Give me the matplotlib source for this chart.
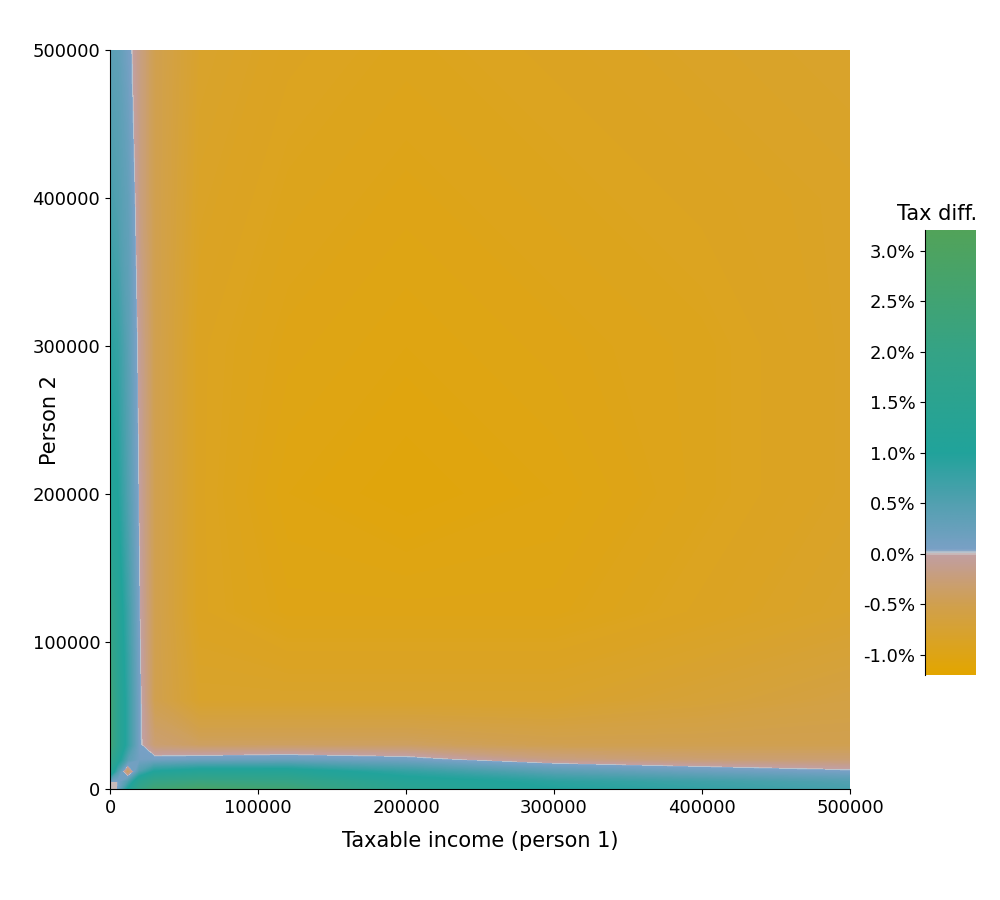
import numpy as np
import matplotlib
matplotlib.use('Agg')
import matplotlib.pyplot as plt
from matplotlib.colors import LinearSegmentedColormap, Normalize

# grid coordinates (income of person 1 / person 2)
incomes = [0, 5000, 12000, 20000, 30000, 60000, 120000, 200000, 300000, 400000, 500000]

# tax difference in percent, rows = person 2, cols = person 1
tax_diff = [
    [0.0, 0.0, 1.0, 2.0, 2.5, 2.8, 2.5, 1.5, 1.0, 0.8, 0.6],
    [0.0, 0.0, 0.5, 1.5, 2.0, 2.2, 2.0, 1.2, 0.9, 0.7, 0.5],
    [1.5, 0.5, -0.5, 0.5, 1.0, 1.2, 1.2, 0.8, 0.4, 0.2, 0.05],
    [2.0, 1.2, 0.4, 0.1, 0.1, 0.15, 0.2, 0.1, -0.2, -0.3, -0.3],
    [2.5, 1.5, 0.8, 0.05, -0.3, -0.4, -0.4, -0.4, -0.5, -0.5, -0.5],
    [2.5, 1.5, 0.8, 0.05, -0.5, -0.8, -0.8, -0.8, -0.8, -0.7, -0.6],
    [2.0, 1.3, 0.7, 0.0, -0.5, -0.9, -1.0, -1.0, -1.0, -0.9, -0.8],
    [1.2, 1.0, 0.5, -0.05, -0.5, -0.9, -1.05, -1.1, -1.05, -0.95, -0.85],
    [0.9, 0.8, 0.4, -0.1, -0.5, -0.9, -1.0, -1.05, -1.0, -0.95, -0.85],
    [0.6, 0.5, 0.3, -0.2, -0.5, -0.85, -0.95, -1.0, -0.95, -0.9, -0.85],
    [0.4, 0.35, 0.1, -0.2, -0.5, -0.8, -0.9, -0.95, -0.9, -0.85, -0.8],
]

vmin, vmax = -1.2, 3.2
def pos(v):
    return (v - vmin) / (vmax - vmin)

cmap = LinearSegmentedColormap.from_list('taxdiff', [
    (0.0, '#e3a600'),
    (pos(-0.5), '#d0a050'),
    (pos(-0.1), '#c49e94'),
    (pos(-0.02), '#c2a0a0'),
    (pos(0.0), '#d0d0d0'),
    (pos(0.03), '#7aa0c6'),
    (pos(0.5), '#52a0b0'),
    (pos(1.0), '#21a39b'),
    (pos(2.0), '#35a386'),
    (1.0, '#52a35a'),
])

fig = plt.figure(figsize=(10, 9), dpi=100)
ax = fig.add_axes([0.11, 0.123, 0.74, 0.821])
X, Y = np.meshgrid(incomes, incomes)
Z = np.array(tax_diff)
levels = np.linspace(vmin, vmax, 441)
ax.contourf(X, Y, Z, levels=levels, cmap=cmap, norm=Normalize(vmin, vmax))
ax.set_xlim(0, 500000)
ax.set_ylim(0, 500000)
ax.spines['top'].set_visible(False)
ax.spines['right'].set_visible(False)
ax.set_xticks(range(0, 500001, 100000))
ax.set_yticks(range(0, 500001, 100000))
ax.tick_params(labelsize=13)
ax.set_xlabel('Taxable income (person 1)', fontsize=15, labelpad=10)
ax.set_ylabel('Person 2', fontsize=15)
ax.yaxis.set_label_coords(-0.068, 0.5)

cax = fig.add_axes([0.925, 0.25, 0.05, 0.494])
grad = np.linspace(vmin, vmax, 500).reshape(-1, 1)
cax.imshow(grad, aspect='auto', origin='lower', cmap=cmap, extent=[0, 1, vmin, vmax],
           norm=Normalize(vmin, vmax))
cax.set_xticks([])
for s in ['top', 'right', 'bottom']:
    cax.spines[s].set_visible(False)
ticks = [-1.0, -0.5, 0.0, 0.5, 1.0, 1.5, 2.0, 2.5, 3.0]
cax.set_yticks(ticks)
cax.set_yticklabels([f'{t:.1f}%' for t in ticks])
cax.tick_params(labelsize=13)
cax.text(0.24, 1.015, 'Tax diff.', transform=cax.transAxes, ha='center', va='bottom', fontsize=15)

fig.savefig('out.png')
